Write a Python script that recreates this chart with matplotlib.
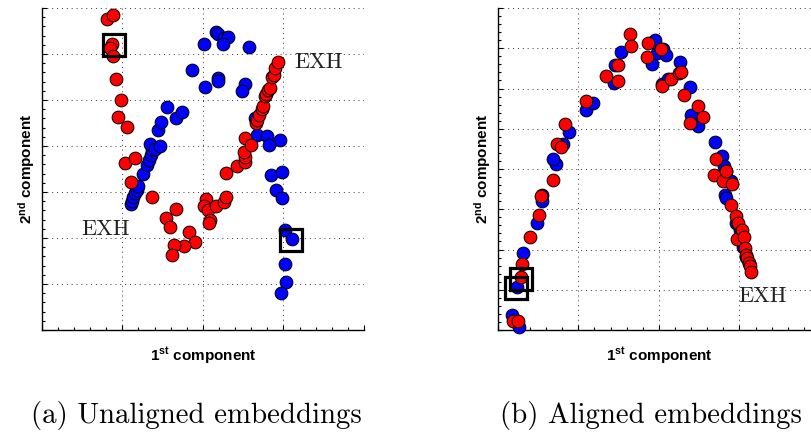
import matplotlib
matplotlib.use("Agg")
import matplotlib.pyplot as plt
from matplotlib.ticker import MultipleLocator, AutoMinorLocator

plt.rcParams['mathtext.fontset'] = 'custom'
plt.rcParams['mathtext.rm'] = 'Liberation Sans:bold'
plt.rcParams['mathtext.bf'] = 'Liberation Sans:bold'
plt.rcParams['font.family'] = ['Liberation Sans', 'DejaVu Sans']

# ---- (a) Unaligned embeddings ----
a_red_x = [0.814, 0.888, 0.868, 0.847, 0.888, 0.917, 0.979, 0.946, 1.054, 1.037, 1.161, 1.112,
           1.372, 1.545, 1.669, 1.591, 1.826, 1.905, 1.769, 1.645, 1.616, 2.045, 2.017, 2.066,
           2.087, 2.079, 2.161, 2.260, 2.285, 2.293, 2.430, 2.521, 2.529, 2.512, 2.521, 2.603,
           2.657, 2.674, 2.698, 2.731, 2.748, 2.777, 2.789, 2.806, 2.839, 2.864, 2.880, 2.897, 2.934]
a_red_y = [6.76, 6.84, 6.21, 6.13, 5.95, 5.46, 5.01, 4.63, 4.42, 3.62, 3.73, 3.21,
           2.89, 2.44, 2.62, 2.24, 2.12, 1.91, 1.82, 1.84, 1.62, 2.85, 2.70, 2.60,
           2.39, 2.33, 2.70, 2.78, 2.90, 3.41, 3.57, 3.66, 3.77, 3.88, 4.18, 4.03,
           4.49, 4.56, 4.68, 4.80, 4.87, 5.08, 5.13, 5.21, 5.26, 5.50, 5.55, 5.69, 5.82]
a_blue_x = [1.103, 1.120, 1.136, 1.161, 1.186, 1.198, 1.252, 1.302, 1.326, 1.351, 1.368, 1.347,
            1.405, 1.467, 1.442, 1.483, 1.550, 1.661, 1.740, 1.868, 2.017, 2.021, 2.169, 2.190,
            2.260, 2.306, 2.244, 2.182, 2.190, 2.574, 2.517, 2.483, 2.645, 2.678, 2.793, 2.822,
            2.959, 2.851, 2.988, 2.913, 2.988, 3.017, 3.103, 3.017, 3.037, 2.967]
a_blue_y = [2.74, 2.81, 2.90, 2.97, 3.05, 3.14, 3.39, 3.58, 3.70, 3.81, 3.91, 4.05,
            3.94, 4.01, 4.34, 4.53, 4.84, 4.60, 4.75, 5.66, 6.22, 5.29, 6.48, 6.43,
            6.35, 6.37, 6.21, 5.47, 5.42, 6.16, 5.34, 5.19, 4.60, 4.24, 4.21, 4.02,
            4.12, 3.38, 3.44, 3.05, 2.86, 2.18, 1.97, 1.44, 1.04, 0.80]
a_box_x = [0.897, 3.10]
a_box_y = [6.20, 1.965]
a_labels = ["EXH", "EXH"]
a_label_x = [3.14, 0.49]
a_label_y = [5.82, 2.20]

# ---- (b) Aligned embeddings ----
b_blue_x = [0.174, 0.269, 0.236, 0.314, 0.488, 0.554, 0.550, 0.719, 0.690, 0.814, 0.880, 1.095,
            1.178, 1.446, 1.455, 1.529, 1.921, 1.950, 1.971, 2.054, 2.087, 2.033, 2.116, 2.264,
            2.384, 2.405, 2.492, 2.694, 2.785, 2.810, 2.839, 2.818, 2.839, 2.901, 2.963, 3.004,
            3.045, 3.087, 3.120]
b_blue_y = [0.37, 0.07, 1.08, 1.91, 2.67, 3.20, 3.36, 4.12, 4.25, 4.63, 4.93, 5.46,
            5.64, 6.13, 6.58, 6.90, 6.62, 7.20, 6.88, 6.98, 6.82, 6.11, 6.24, 6.67,
            6.04, 5.35, 5.06, 4.68, 4.33, 4.08, 3.94, 3.36, 3.28, 3.69, 2.65, 2.49,
            2.07, 1.82, 1.66]
b_red_x = [0.194, 0.256, 0.285, 0.298, 0.401, 0.508, 0.533, 0.690, 0.731, 0.781, 0.831, 1.095,
           1.339, 1.496, 1.492, 1.640, 1.649, 1.868, 1.855, 2.025, 2.037, 2.145, 2.248, 2.277,
           2.310, 2.384, 2.488, 2.550, 2.682, 2.715, 2.798, 2.831, 2.905, 2.901, 2.955, 2.983,
           2.971, 3.037, 3.054, 3.066, 3.087, 3.095, 3.120, 3.128, 3.149]
b_red_y = [0.23, 0.23, 1.31, 1.63, 2.31, 2.86, 3.33, 3.73, 4.63, 4.54, 5.12, 5.70,
           6.32, 6.19, 6.58, 7.35, 7.06, 7.13, 6.78, 6.97, 6.07, 6.24, 6.38, 6.42,
           5.85, 5.15, 5.57, 5.28, 3.85, 4.25, 3.69, 3.94, 3.63, 3.11, 2.84, 2.65,
           2.26, 2.49, 2.31, 2.03, 1.87, 1.78, 1.66, 1.58, 1.45]
b_box_x = [0.283, 0.225]
b_box_y = [1.262, 1.043]
b_labels = ["EXH"]
b_label_x = [2.98]
b_label_y = [0.85]

captions = ["(a) Unaligned embeddings", "(b) Aligned embeddings"]
xlabel = r"$\mathbf{1^{st}}$ component"
ylabel = r"$\mathbf{2^{nd}}$ component"

fig = plt.figure(figsize=(8.11, 4.38), dpi=100)
axA = fig.add_axes([41.7 / 811, 108 / 438, 322.3 / 811, 322 / 438])
axB = fig.add_axes([497.7 / 811, 108 / 438, 322.3 / 811, 322 / 438])

ms = 9.2
def style(ax, xmax, ymax):
    ax.set_xlim(0, xmax)
    ax.set_ylim(0, ymax)
    ax.xaxis.set_major_locator(MultipleLocator(1))
    ax.yaxis.set_major_locator(MultipleLocator(1))
    ax.xaxis.set_minor_locator(AutoMinorLocator(5))
    ax.yaxis.set_minor_locator(AutoMinorLocator(5))
    ax.tick_params(which='both', direction='in', labelbottom=False, labelleft=False,
                   top=False, right=False, width=0.8)
    ax.tick_params(which='major', length=3.5)
    ax.tick_params(which='minor', length=2)
    ax.spines['top'].set_visible(False)
    ax.spines['right'].set_visible(False)
    ax.spines['left'].set_linewidth(1.0)
    ax.spines['bottom'].set_linewidth(1.0)
    ax.grid(True, which='major', color='#333333', linestyle=(0, (1, 4)), linewidth=0.7)
    ax.set_axisbelow(True)
    ax.set_xlabel(xlabel, fontsize=11, fontweight='bold')
    ax.set_ylabel(ylabel, fontsize=11, fontweight='bold')
    ax.xaxis.set_label_coords(0.5, -0.048)
    ax.yaxis.set_label_coords(-0.016, 0.5)

for ax, bx, by, rx, ry, qx, qy, labs, lx, ly in [
        (axA, a_blue_x, a_blue_y, a_red_x, a_red_y, a_box_x, a_box_y, a_labels, a_label_x, a_label_y),
        (axB, b_blue_x, b_blue_y, b_red_x, b_red_y, b_box_x, b_box_y, b_labels, b_label_x, b_label_y)]:
    ax.plot(bx, by, 'o', ms=ms, mfc='#0000ff', mec='black', mew=0.7, clip_on=False, zorder=3)
    ax.plot(rx, ry, 'o', ms=ms, mfc='#ff0000', mec='black', mew=0.7, clip_on=False, zorder=4)
    ax.plot(qx, qy, 's', ms=16, mfc='none', mec='black', mew=2.3, clip_on=False, zorder=5)
    for t, x, y in zip(labs, lx, ly):
        ax.text(x, y, t, family='cmr10', fontsize=16, ha='left', va='center', color='#222222')

style(axA, 4, 7)
style(axB, 4, 8)

fig.text(196 / 811, 1 - 416 / 438, captions[0], family='cmr10', fontsize=20.8, ha='center', va='center')
fig.text(651 / 811, 1 - 416 / 438, captions[1], family='cmr10', fontsize=20.8, ha='center', va='center')

fig.savefig("out.png", dpi=100)
